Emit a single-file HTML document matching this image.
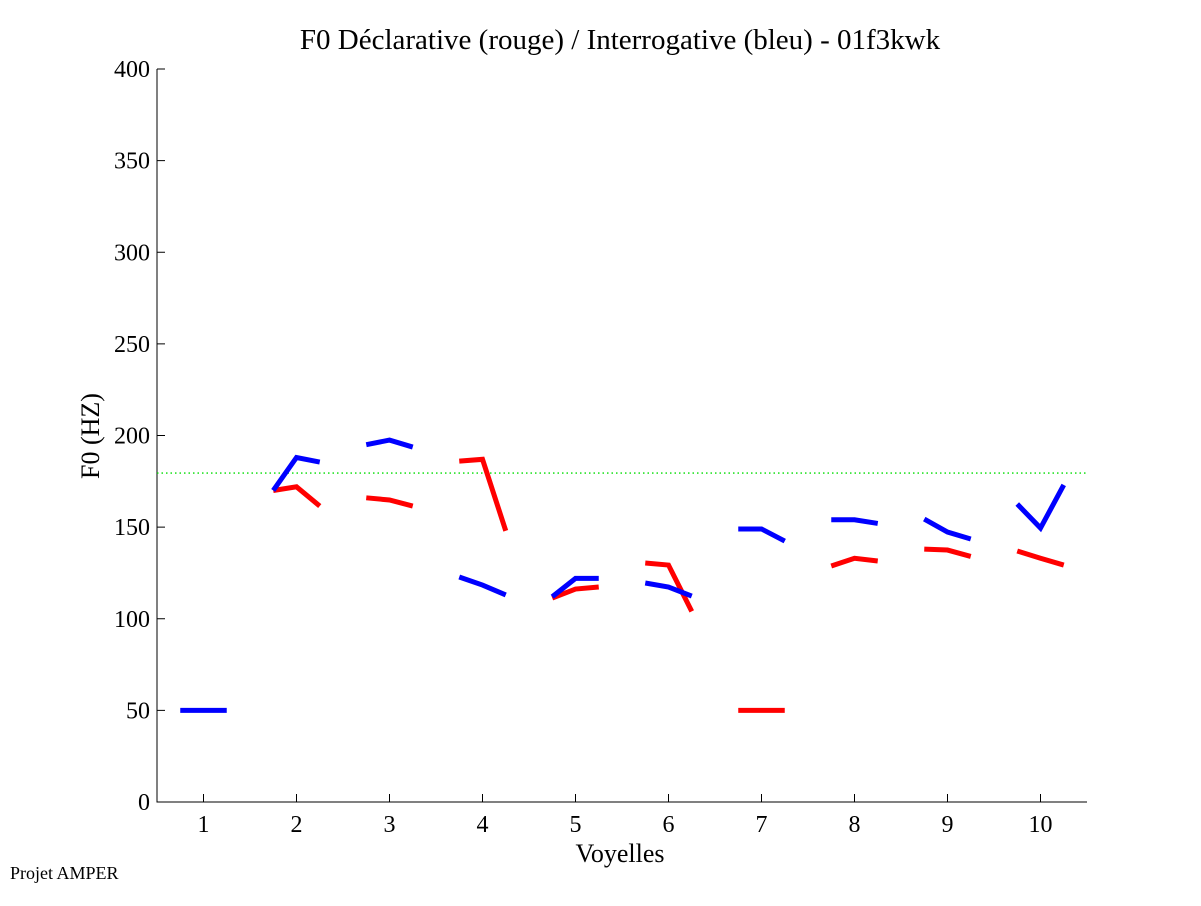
<!DOCTYPE html>
<html><head><meta charset="utf-8"><style>
body{margin:0;background:#fff;}
svg text{font-family:"Liberation Serif",serif;fill:#000;}
</style></head><body>
<svg id="c" width="1201" height="901" xmlns="http://www.w3.org/2000/svg">
<rect width="1201" height="901" fill="#fff"/>
<text x="620" y="49" font-size="29" text-anchor="middle">F0 Déclarative (rouge) / Interrogative (bleu) - 01f3kwk</text>
<text x="620" y="862" font-size="26" text-anchor="middle">Voyelles</text>
<text transform="translate(99,436) rotate(-90)" font-size="26" text-anchor="middle">F0 (HZ)</text>
<text x="10" y="879" font-size="18">Projet AMPER</text>
<g id="axes"></g><g id="marks"></g>
</svg>
<script>
const categories=[1,2,3,4,5,6,7,8,9,10];
const yTicks=[0,50,100,150,200,250,300,350,400];
const refLine=179.5;
const blue=[[50,50,50],[170,188,185.5],[195,197.5,193.7],[122.8,118.4,113],[112,122,122],[119.5,117.3,112.4],[149,149,142.4],[154,154,152],[154.4,147.3,143.5],[162.6,149.5,173]];
const red=[null,[170,172,161.5],[166,164.8,161.5],[186,187,148],[111.3,116.2,117.3],[130.4,129.3,104],[50,50,50],[128.8,133,131.5],[138,137.5,134],[137,133,129.3]];
const X0=157,X1=1087,Y0=802,Y1=69;
const xs=v=>X0+(v-0.5)/10*(X1-X0);
const ys=v=>Y0-v/400*(Y0-Y1);
const NS="http://www.w3.org/2000/svg";
const ax=document.getElementById('axes'),mk=document.getElementById('marks');
function mkEl(t,a,p){const e=document.createElementNS(NS,t);for(const k in a)e.setAttribute(k,a[k]);p.appendChild(e);return e;}
let e=mkEl('path',{d:`M${X0},${Y1}V${Y0}H${X1}`,fill:'none',stroke:'#000','stroke-width':1},ax);


yTicks.forEach(t=>{
 let l=mkEl('line',{x1:X0,x2:X0+8,y1:ys(t),y2:ys(t),stroke:'#000'},ax);
 
 
 let tx=mkEl('text',{x:X0-7,y:ys(t)+8,'font-size':24,'text-anchor':'end'},ax);tx.textContent=t;
 
 
});
categories.forEach(c=>{
 let l=mkEl('line',{x1:xs(c),x2:xs(c),y1:Y0,y2:Y0-8,stroke:'#000'},ax);
 
 
 let tx=mkEl('text',{x:xs(c),y:Y0+30,'font-size':24,'text-anchor':'middle'},ax);tx.textContent=c;
 
 
});
let g=mkEl('line',{x1:X0,x2:X1,y1:ys(refLine),y2:ys(refLine),stroke:'#00dd00','stroke-width':1.3,'stroke-dasharray':'1.5,3'},mk);


function series(data,col,name){
 data.forEach((seg,i)=>{
  if(!seg)return;
  const c=categories[i];
  const pts=seg.map((v,j)=>`${xs(c-0.25+0.25*j)},${ys(v)}`).join(' ');
  let p=mkEl('polyline',{points:pts,fill:'none',stroke:col,'stroke-width':5},mk);
  
  
 });
}
series(red,'#ff0000','declarative');
series(blue,'#0000ff','interrogative');
</script>
</body></html>
